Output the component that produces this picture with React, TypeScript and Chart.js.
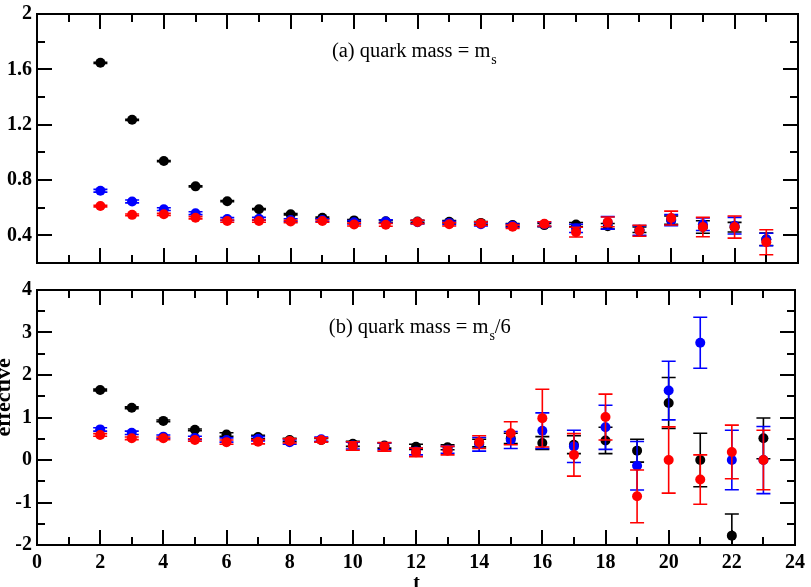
import React, { useEffect, useRef } from "react";
import { Chart, registerables } from "chart.js";

Chart.register(...registerables);

const FONT = '"Liberation Serif", "Times New Roman", Times, serif';

// time slices
const T = [2, 3, 4, 5, 6, 7, 8, 9, 10, 11, 12, 13, 14, 15, 16, 17, 18, 19, 20, 21, 22, 23];

// ---------- panel (a): quark mass = m_s ----------
const aBlack = [1.647, 1.235, 0.937, 0.754, 0.647, 0.589, 0.553, 0.527, 0.508, 0.502, 0.5, 0.498, 0.49, 0.475, 0.474, 0.478, 0.466, 0.44, 0.51, 0.46, 0.459, 0.372];
const aBlackErr = [0.004, 0.004, 0.004, 0.004, 0.004, 0.004, 0.005, 0.006, 0.007, 0.008, 0.008, 0.009, 0.01, 0.01, 0.012, 0.015, 0.02, 0.02, 0.03, 0.045, 0.035, 0.045];
const aBlue = [0.722, 0.645, 0.589, 0.56, 0.518, 0.52, 0.51, 0.51, 0.494, 0.5, 0.495, 0.49, 0.48, 0.47, 0.48, 0.45, 0.49, 0.435, 0.51, 0.48, 0.47, 0.37];
const aBlueErr = [0.01, 0.01, 0.01, 0.01, 0.01, 0.01, 0.01, 0.01, 0.012, 0.012, 0.012, 0.012, 0.012, 0.012, 0.015, 0.03, 0.045, 0.035, 0.04, 0.045, 0.06, 0.045];
const aRed = [0.612, 0.548, 0.552, 0.527, 0.503, 0.503, 0.5, 0.503, 0.478, 0.476, 0.497, 0.48, 0.485, 0.462, 0.483, 0.423, 0.497, 0.433, 0.525, 0.46, 0.46, 0.35];
const aRedErr = [0.006, 0.006, 0.008, 0.008, 0.008, 0.008, 0.008, 0.008, 0.01, 0.01, 0.012, 0.012, 0.012, 0.012, 0.015, 0.035, 0.035, 0.04, 0.05, 0.07, 0.08, 0.09];

// ---------- panel (b): quark mass = m_s/6 ----------
const bBlack = [1.647, 1.23, 0.92, 0.71, 0.6, 0.54, 0.47, 0.47, 0.38, 0.34, 0.31, 0.3, 0.4, 0.51, 0.4, 0.36, 0.46, 0.22, 1.34, 0.0, -1.78, 0.51];
const bBlackErr = [0.02, 0.02, 0.02, 0.02, 0.04, 0.04, 0.04, 0.04, 0.06, 0.06, 0.06, 0.06, 0.09, 0.12, 0.15, 0.21, 0.31, 0.27, 0.6, 0.63, 0.51, 0.48];
const bBlue = [0.72, 0.64, 0.55, 0.52, 0.47, 0.5, 0.42, 0.49, 0.34, 0.32, 0.2, 0.24, 0.37, 0.47, 0.69, 0.32, 0.77, -0.135, 1.635, 2.76, 0.0, 0.0];
const bBlueErr = [0.04, 0.04, 0.04, 0.04, 0.05, 0.05, 0.05, 0.05, 0.08, 0.08, 0.08, 0.08, 0.16, 0.2, 0.42, 0.38, 0.52, 0.57, 0.69, 0.6, 0.7, 0.79];
const bRed = [0.59, 0.51, 0.51, 0.47, 0.42, 0.43, 0.45, 0.47, 0.33, 0.31, 0.18, 0.22, 0.42, 0.63, 0.985, 0.12, 1.01, -0.855, 0.0, -0.46, 0.19, 0.0];
const bRedErr = [0.03, 0.03, 0.03, 0.03, 0.05, 0.05, 0.05, 0.05, 0.1, 0.1, 0.1, 0.1, 0.15, 0.27, 0.68, 0.5, 0.54, 0.62, 0.78, 0.58, 0.63, 0.7];

// ---------- axes ----------
const xMajor = [0, 2, 4, 6, 8, 10, 12, 14, 16, 18, 20, 22, 24];
const xMinor = [1, 3, 5, 7, 9, 11, 13, 15, 17, 19, 21, 23];
const xLabels = ["0", "2", "4", "6", "8", "10", "12", "14", "16", "18", "20", "22", "24"];
const aYMajor = [0.4, 0.8, 1.2, 1.6, 2.0];
const aYLabels = ["0.4", "0.8", "1.2", "1.6", "2"];
const aYMinor = [0.6, 1.0, 1.4, 1.8];
const bYMajor = [-2, -1, 0, 1, 2, 3, 4];
const bYLabels = ["-2", "-1", "0", "1", "2", "3", "4"];
const bYMinor = [-1.5, -0.5, 0.5, 1.5, 2.5, 3.5];

const COLORS = { black: "#000000", blue: "#0000ff", red: "#ff0000" };

const errorBarPlugin = {
  id: "errorBars",
  beforeDatasetDraw(chart: any, args: any) {
    const ds = chart.data.datasets[args.index];
    const errs: number[] | undefined = ds.errors;
    if (!errs) return;
    const { ctx, chartArea } = chart;
    const xs = chart.scales.x;
    const ys = chart.scales.y;
    ctx.save();
    ctx.beginPath();
    ctx.rect(chartArea.left, chartArea.top, chartArea.right - chartArea.left, chartArea.bottom - chartArea.top);
    ctx.clip();
    ctx.strokeStyle = ds.backgroundColor;
    ctx.lineWidth = 1.6;
    const cap = 7;
    ds.data.forEach((p: any, i: number) => {
      const px = xs.getPixelForValue(p.x);
      const hi = ys.getPixelForValue(p.y + errs[i]);
      const lo = ys.getPixelForValue(p.y - errs[i]);
      ctx.beginPath();
      ctx.moveTo(px, hi);
      ctx.lineTo(px, lo);
      ctx.moveTo(px - cap, hi);
      ctx.lineTo(px + cap, hi);
      ctx.moveTo(px - cap, lo);
      ctx.lineTo(px + cap, lo);
      ctx.stroke();
    });
    ctx.restore();
  },
};

const framePlugin = {
  id: "frame",
  afterDraw(chart: any, _args: any, opts: any) {
    const { ctx, chartArea } = chart;
    const xs = chart.scales.x;
    const ys = chart.scales.y;
    const { left, right, top, bottom } = chartArea;
    ctx.save();
    ctx.strokeStyle = "#000";
    ctx.lineWidth = 2;
    ctx.beginPath();
    ctx.rect(left, top, right - left, bottom - top);
    ctx.stroke();
    const major = 15;
    const minor = 8;
    ctx.beginPath();
    const xt = (v: number, len: number) => {
      const px = Math.round(xs.getPixelForValue(v));
      ctx.moveTo(px, bottom);
      ctx.lineTo(px, bottom - len);
      ctx.moveTo(px, top);
      ctx.lineTo(px, top + len);
    };
    const yt = (v: number, len: number) => {
      const py = Math.round(ys.getPixelForValue(v));
      ctx.moveTo(left, py);
      ctx.lineTo(left + len, py);
      ctx.moveTo(right, py);
      ctx.lineTo(right - len, py);
    };
    xMajor.forEach((v) => xt(v, major));
    xMinor.forEach((v) => xt(v, minor));
    (opts.yMajor as number[]).forEach((v) => yt(v, major));
    (opts.yMinor as number[]).forEach((v) => yt(v, minor));
    ctx.stroke();

    // panel annotation
    const tx = xs.getPixelForValue(opts.textX);
    const ty = ys.getPixelForValue(opts.textY);
    ctx.fillStyle = "#000";
    ctx.textBaseline = "alphabetic";
    ctx.textAlign = "left";
    ctx.font = `20.5px ${FONT}`;
    ctx.fillText(opts.text, tx, ty);
    const w = ctx.measureText(opts.text).width;
    ctx.font = `14px ${FONT}`;
    ctx.fillText(opts.sub, tx + w + 1, ty + 7);
    const ws = ctx.measureText(opts.sub).width;
    if (opts.suffix) {
      ctx.font = `20.5px ${FONT}`;
      ctx.fillText(opts.suffix, tx + w + 1 + ws, ty);
    }

    // axis titles
    if (opts.xTitle) {
      ctx.font = `bold 20px ${FONT}`;
      ctx.textAlign = "center";
      ctx.fillText(opts.xTitle, (left + right) / 2 + 0.5, bottom + 44);
    }
    if (opts.yTitle) {
      ctx.save();
      ctx.translate(10, (top + bottom) / 2 + 19);
      ctx.rotate(-Math.PI / 2);
      ctx.font = `bold 22px ${FONT}`;
      ctx.textAlign = "left";
      ctx.textBaseline = "alphabetic";
      ctx.fillText(opts.yTitle, 0, 0);
      ctx.restore();
    }
    ctx.restore();
  },
};

function series(vals: number[], errs: number[], color: string) {
  return {
    data: T.map((t, i) => ({ x: t, y: vals[i] })),
    errors: errs,
    backgroundColor: color,
    borderColor: color,
    pointRadius: 5,
    pointBorderWidth: 0,
    pointHoverRadius: 5,
    showLine: false,
  };
}

function makeConfig(panel: "a" | "b") {
  const isA = panel === "a";
  const yMajor = isA ? aYMajor : bYMajor;
  const yLabels = isA ? aYLabels : bYLabels;
  // Chart.js paints dataset 0 last (on top): red over blue over black
  return {
    type: "scatter",
    data: {
      datasets: isA
        ? [series(aRed, aRedErr, COLORS.red), series(aBlue, aBlueErr, COLORS.blue), series(aBlack, aBlackErr, COLORS.black)]
        : [series(bRed, bRedErr, COLORS.red), series(bBlue, bBlueErr, COLORS.blue), series(bBlack, bBlackErr, COLORS.black)],
    },
    options: {
      responsive: false,
      maintainAspectRatio: false,
      animation: false,
      events: [],
      layout: { padding: { left: 0, right: 13, top: isA ? 12 : 20, bottom: 0 } },
      plugins: {
        legend: { display: false },
        tooltip: { enabled: false },
        frame: isA
          ? { yMajor: aYMajor, yMinor: aYMinor, textX: 9.3, textY: 1.69, text: "(a) quark mass = m", sub: "s", suffix: "" }
          : { yMajor: bYMajor, yMinor: bYMinor, textX: 9.24, textY: 2.99, text: "(b) quark mass = m", sub: "s", suffix: "/6", xTitle: "t", yTitle: "effective" },
      },
      scales: {
        x: {
          type: "linear",
          min: 0,
          max: 24,
          grid: { display: false, drawTicks: false },
          border: { display: false },
          afterBuildTicks: (s: any) => {
            s.ticks = xMajor.map((v) => ({ value: v }));
          },
          afterFit: (s: any) => {
            s.height = isA ? 15 : 42;
          },
          ticks: {
            display: !isA,
            padding: 6,
            maxRotation: 0,
            autoSkip: false,
            color: "#000",
            font: { family: FONT, size: 20, weight: "bold" },
            callback: (_v: any, i: number) => xLabels[i],
          },
        },
        y: {
          type: "linear",
          min: isA ? 0.2 : -2,
          max: isA ? 2 : 4,
          grid: { display: false, drawTicks: false },
          border: { display: false },
          afterBuildTicks: (s: any) => {
            s.ticks = yMajor.map((v) => ({ value: v }));
          },
          afterFit: (s: any) => {
            s.width = 37;
          },
          ticks: {
            padding: 5,
            autoSkip: false,
            color: "#000",
            font: { family: FONT, size: 20, weight: "bold" },
            callback: (_v: any, i: number) => yLabels[i],
          },
        },
      },
    },
    plugins: [errorBarPlugin, framePlugin],
  };
}

export default function App() {
  const topRef = useRef<HTMLCanvasElement>(null);
  const botRef = useRef<HTMLCanvasElement>(null);
  useEffect(() => {
    const c1 = new Chart(topRef.current as HTMLCanvasElement, makeConfig("a") as any);
    const c2 = new Chart(botRef.current as HTMLCanvasElement, makeConfig("b") as any);
    return () => {
      c1.destroy();
      c2.destroy();
    };
  }, []);
  return (
    <div style={{ position: "absolute", left: 0, top: 0, width: 811, height: 587, overflow: "hidden", background: "#fff" }}>
      <canvas ref={topRef} width={811} height={283} style={{ position: "absolute", left: 0, top: -3, display: "block" }} />
      <canvas ref={botRef} width={811} height={317} style={{ position: "absolute", left: 0, top: 270, display: "block" }} />
    </div>
  );
}
